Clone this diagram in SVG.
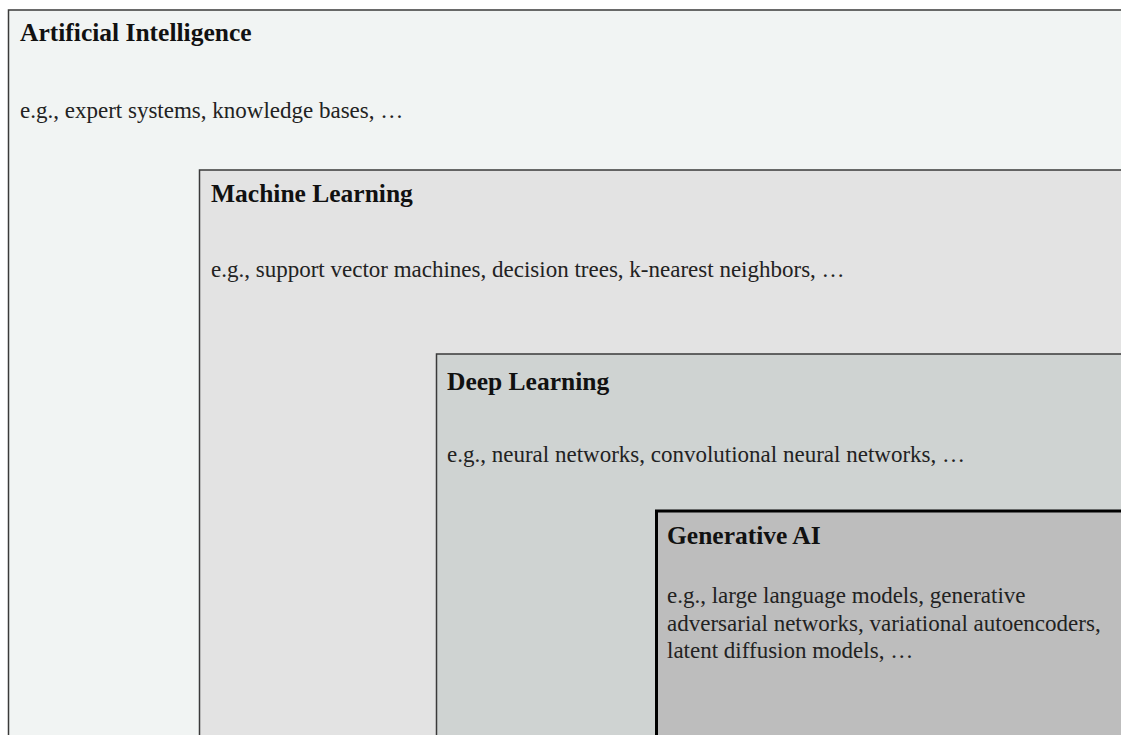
<svg xmlns="http://www.w3.org/2000/svg" width="1121" height="735" viewBox="0 0 1121 735">
<style>
.t{font-family:"Liberation Serif","Times New Roman",serif;font-weight:bold;font-size:25.5px;fill:#111}
.d{font-family:"Liberation Serif","Times New Roman",serif;font-size:23px;fill:#222}
.b{stroke:#3a3a3a;stroke-width:1.5}
</style>
<rect width="1121" height="735" fill="#ffffff"/>
<g id="ai">
<rect class="b" x="8.5" y="10" width="1130" height="740" fill="#f1f4f3"/>
<text class="t" x="20" y="41">Artificial Intelligence</text>
<text class="d" x="20" y="118">e.g., expert systems, knowledge bases, …</text>
</g>
<g id="ml">
<rect class="b" x="199.5" y="170" width="940" height="580" fill="#e3e3e3"/>
<text class="t" x="211" y="202">Machine Learning</text>
<text class="d" x="211" y="277">e.g., support vector machines, decision trees, k-nearest neighbors, …</text>
</g>
<g id="dl">
<rect class="b" x="436.5" y="354" width="700" height="400" fill="#cfd3d2"/>
<text class="t" x="447" y="390">Deep Learning</text>
<text class="d" x="447" y="462">e.g., neural networks, convolutional neural networks, …</text>
</g>
<g id="genai">
<rect x="656.5" y="511" width="480" height="240" fill="#bdbdbd" stroke="#000" stroke-width="3"/>
<text class="t" x="667" y="544">Generative AI</text>
<text class="d" x="667" y="603">e.g., large language models, generative</text>
<text class="d" x="667" y="631">adversarial networks, variational autoencoders,</text>
<text class="d" x="667" y="658">latent diffusion models, …</text>
</g>
<g id="connectors"/>
</svg>
